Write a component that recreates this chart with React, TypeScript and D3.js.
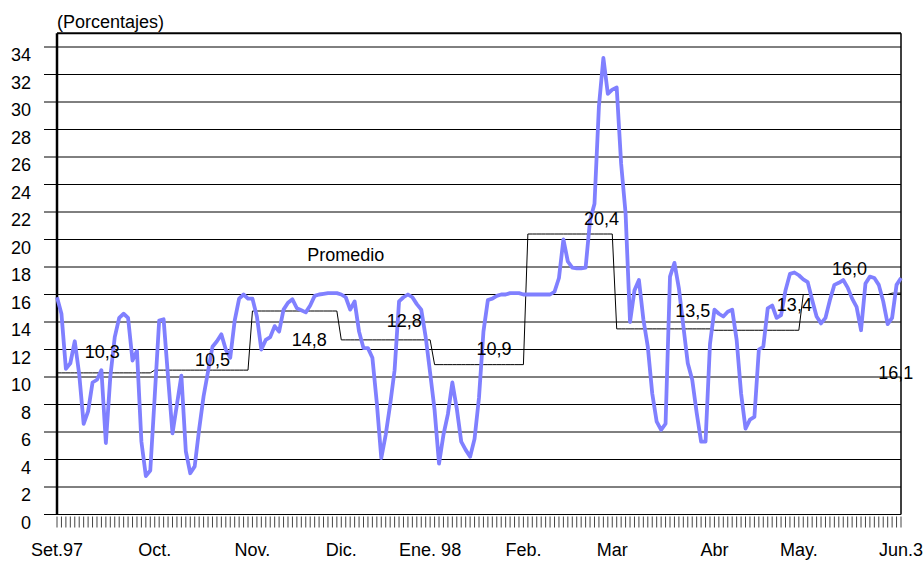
import React, { useEffect, useRef } from "react";
import * as d3 from "d3";

// tasa diaria (porcentajes), un valor por día hábil, Set.97 - Jun.3 98
const tasaDiaria: number[] = [
  15.8, 14.6, 10.6, 11.0, 12.6, 10.2, 6.6, 7.5, 9.6, 9.8,
  10.5, 5.2, 10.0, 12.9, 14.3, 14.6, 14.3, 11.2, 11.9, 5.3,
  2.8, 3.2, 8.6, 14.1, 14.2, 10.0, 5.9, 8.0, 10.1, 4.6,
  3.0, 3.5, 6.2, 8.6, 10.4, 12.2, 12.6, 13.1, 12.0, 11.4,
  14.1, 15.7, 16.0, 15.7, 15.7, 14.4, 12.0, 12.7, 12.9, 13.7,
  13.3, 14.9, 15.4, 15.65, 15.0, 14.85, 14.7, 15.2, 15.9, 16.0,
  16.05, 16.1, 16.1, 16.1, 16.0, 15.8, 14.9, 15.5, 13.3, 12.1,
  12.1, 11.4, 8.1, 4.1, 5.8, 8.0, 10.5, 15.5, 15.8, 16.0,
  15.8, 15.3, 14.9, 12.9, 10.3, 7.6, 3.7, 5.8, 7.3, 9.6,
  7.7, 5.3, 4.7, 4.2, 5.5, 8.5, 13.3, 15.6, 15.7, 15.9,
  16.0, 16.0, 16.1, 16.1, 16.1, 16.0, 16.0, 16.0, 16.0, 16.0,
  16.0, 16.0, 16.2, 17.2, 20.0, 18.4, 17.95, 17.9, 17.9, 17.95,
  21.4, 22.6, 29.7, 33.2, 30.6, 30.9, 31.05, 25.5, 21.9, 14.0,
  16.3, 17.05, 14.2, 12.2, 8.8, 6.75, 6.15, 6.6, 17.3, 18.3,
  16.45, 13.7, 11.0, 9.8, 7.4, 5.3, 5.3, 12.4, 14.9, 14.6,
  14.4, 14.75, 14.9, 12.7, 8.8, 6.25, 6.9, 7.1, 12.0, 12.2,
  15.0, 15.2, 14.3, 14.5, 16.3, 17.5, 17.6, 17.4, 17.1, 16.9,
  15.6, 14.4, 13.9, 14.3, 15.6, 16.7, 16.85, 17.05, 16.5, 15.7,
  15.1, 13.4, 16.8, 17.3, 17.2, 16.7, 15.5, 13.85, 14.3, 16.7,
  17.2,
];

// promedio mensual: índice del primer día de cada mes y su valor
const mesInicio = [0, 22, 44, 64, 85, 106, 126, 148, 168, 188];
const mesPromedio = [10.3, 10.5, 14.8, 12.7, 10.9, 20.4, 13.5, 13.4, 16.0, 16.1];

// etiquetas del eje x (nombre y día en que se coloca)
const mesEtiquetas = ["Set.97", "Oct.", "Nov.", "Dic.", "Ene. 98", "Feb.", "Mar", "Abr", "May.", "Jun.3"];
const mesEtiquetaDia = [0, 22, 44, 64, 84, 105, 125, 148, 167, 190];

// rótulos de los promedios (día, nivel en porcentaje)
const rotulos = ["10,3", "10,5", "14,8", "12,8", "10,9", "20,4", "13,5", "13,4", "16,0", "16,1"];
const rotuloDia = [10.2, 35.0, 56.8, 78.2, 98.4, 122.6, 143.1, 166.0, 178.4, 188.8];
const rotuloNivel = [11.38, 10.8, 12.25, 13.64, 11.6, 21.05, 14.36, 14.8, 17.42, 9.85];

const yTicks = d3.range(0, 35, 2);

const font = "'Liberation Sans', Arial, sans-serif";

export default function App() {
  const ref = useRef<SVGSVGElement>(null);

  useEffect(() => {
    const width = 924;
    const height = 561;
    const left = 57;
    const right = 901;
    const top = 33.25;
    const bottom = 514.5;

    const svg = d3.select(ref.current);
    svg.selectAll("*").remove();
    svg.attr("width", width).attr("height", height);

    const n = tasaDiaria.length;
    const x = d3.scaleLinear().domain([0, n - 1]).range([left, right]);
    const y = d3.scaleLinear().domain([0, 35]).range([bottom, top]);

    // promedio por día a partir de los promedios mensuales
    const promedio = tasaDiaria.map((_, i) => {
      let k = 0;
      mesInicio.forEach((s, j) => { if (i >= s) k = j; });
      return mesPromedio[k];
    });

    const g = svg.append("g");

    // rejilla horizontal
    g.selectAll("line.grid")
      .data(yTicks)
      .enter().append("line")
      .attr("class", "grid")
      .attr("x1", 44)
      .attr("x2", right)
      .attr("y1", d => y(d))
      .attr("y2", d => y(d))
      .attr("stroke", "#000")
      .attr("stroke-width", 1);

    g.selectAll("text.ylab")
      .data(yTicks)
      .enter().append("text")
      .attr("class", "ylab")
      .attr("x", 31)
      .attr("y", d => y(d) + 14)
      .attr("text-anchor", "end")
      .attr("font-family", font)
      .attr("font-size", 18)
      .text(d => d);

    // marcas del eje x, una por día
    g.selectAll("line.xtick")
      .data(d3.range(n))
      .enter().append("line")
      .attr("class", "xtick")
      .attr("x1", d => x(d))
      .attr("x2", d => x(d))
      .attr("y1", bottom + 2)
      .attr("y2", bottom + 13)
      .attr("stroke", "#444")
      .attr("stroke-width", 1);

    g.selectAll("text.xlab")
      .data(mesEtiquetas)
      .enter().append("text")
      .attr("class", "xlab")
      .attr("x", (d, i) => x(mesEtiquetaDia[i]))
      .attr("y", 556)
      .attr("text-anchor", "middle")
      .attr("font-family", font)
      .attr("font-size", 18)
      .text(d => d);

    // marco
    g.append("line")
      .attr("x1", left).attr("x2", right).attr("y1", top).attr("y2", top)
      .attr("stroke", "#000").attr("stroke-width", 2);
    g.append("line")
      .attr("x1", right).attr("x2", right).attr("y1", top).attr("y2", bottom)
      .attr("stroke", "#000").attr("stroke-width", 1.5);
    g.append("line")
      .attr("x1", left).attr("x2", left).attr("y1", top).attr("y2", bottom)
      .attr("stroke", "#000").attr("stroke-width", 2.5);

    const line = d3.line<number>()
      .x((d, i) => x(i))
      .y(d => y(d));

    g.append("path")
      .datum(promedio)
      .attr("d", line)
      .attr("fill", "none")
      .attr("stroke", "#000")
      .attr("stroke-width", 1);

    g.append("path")
      .datum(tasaDiaria)
      .attr("d", line)
      .attr("fill", "none")
      .attr("stroke", "#8080ff")
      .attr("stroke-width", 3.8)
      .attr("stroke-linejoin", "round");

    g.selectAll("text.rotulo")
      .data(rotulos)
      .enter().append("text")
      .attr("class", "rotulo")
      .attr("x", (d, i) => x(rotuloDia[i]))
      .attr("y", (d, i) => y(rotuloNivel[i]))
      .attr("text-anchor", "middle")
      .attr("font-family", font)
      .attr("font-size", 18)
      .text(d => d);

    g.append("text")
      .attr("x", x(65))
      .attr("y", y(18.45))
      .attr("text-anchor", "middle")
      .attr("font-family", font)
      .attr("font-size", 18)
      .text("Promedio");

    g.append("text")
      .attr("x", left)
      .attr("y", 28)
      .attr("font-family", font)
      .attr("font-size", 18)
      .text("(Porcentajes)");
  }, []);

  return (
    <div>
      <svg ref={ref} style={{ position: "absolute", left: 0, top: 0, background: "#fff" }} />
    </div>
  );
}
